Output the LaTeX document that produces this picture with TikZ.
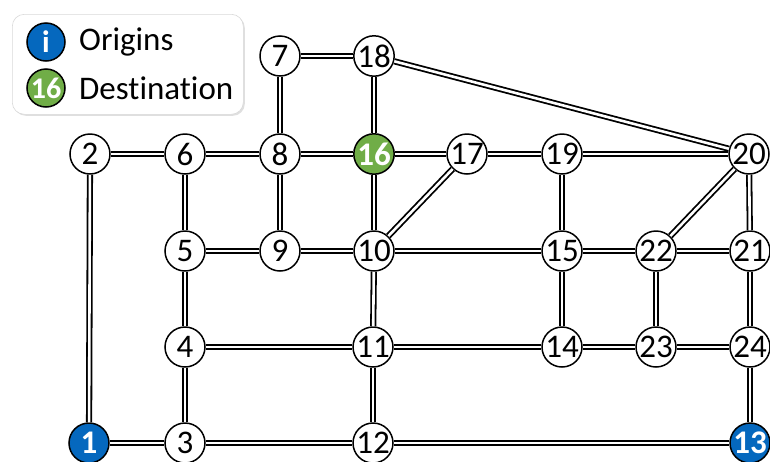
\documentclass[tikz,border=0pt]{standalone}
\usepackage{fontspec}
\setmainfont{Carlito}[Ligatures=NoCommon]
\usetikzlibrary{shadows}
\definecolor{orgblue}{RGB}{5,104,190}
\definecolor{dstgreen}{RGB}{112,173,71}
\begin{document}
\begin{tikzpicture}[x=1pt,y=-1pt,
  nd/.style={circle,draw=black,line width=1.5pt,fill=white,minimum size=40pt,inner sep=0pt,font=\fontsize{33}{33}\selectfont},
  org/.style={nd,fill=orgblue,text=white,font=\fontsize{33}{33}\selectfont\bfseries},
  dst/.style={nd,fill=dstgreen,text=white,font=\fontsize{33}{33}\selectfont\bfseries},
  ed/.style={draw=black,line width=1.8pt,double=white,double distance=2.6pt},
  legtxt/.style={anchor=west,inner sep=0pt,font=\fontsize{33}{33}\selectfont}]
\useasboundingbox (0,0) rectangle (770,461);
% legend
\node[draw=black!15,line width=0.6pt,fill=white,rounded corners=12pt,minimum width=231pt,minimum height=100pt,anchor=north west,
  drop shadow={opacity=0.25,shadow xshift=1.5pt,shadow yshift=-1.5pt}] (legend) at (12,14) {};
\node[org,minimum size=38pt,font=\fontsize{31}{31}\selectfont\bfseries] (li) at (46,42) {i};
\node[dst,minimum size=38pt,font=\fontsize{30}{30}\selectfont\bfseries] (ld) at (46,88) {16};
\node[legtxt] (lt1) at (79,42) {Origins};
\node[legtxt] (lt2) at (79,88) {Destination};
% nodes
\node[nd] (n7) at (280,56) {7};
\node[nd] (n18) at (374,56) {18};
\node[nd] (n2) at (90,154) {2};
\node[nd] (n6) at (185,154) {6};
\node[nd] (n8) at (280,154) {8};
\node[dst] (n16) at (374,154) {16};
\node[nd] (n17) at (467,154) {17};
\node[nd] (n19) at (562,154) {19};
\node[nd] (n20) at (749,154) {20};
\node[nd] (n5) at (185,251) {5};
\node[nd] (n9) at (280,251) {9};
\node[nd] (n10) at (374,251) {10};
\node[nd] (n15) at (562,251) {15};
\node[nd] (n22) at (656,251) {22};
\node[nd] (n21) at (750,251) {21};
\node[nd] (n4) at (185,347) {4};
\node[nd] (n11) at (373,347) {11};
\node[nd] (n14) at (562,347) {14};
\node[nd] (n23) at (656,347) {23};
\node[nd] (n24) at (750,347) {24};
\node[org] (n1) at (89,443) {1};
\node[nd] (n3) at (185,443) {3};
\node[nd] (n12) at (373,443) {12};
\node[org] (n13) at (750,443) {13};
% edges
\foreach \a/\b in {n7/n18,n7/n8,n18/n16,n18/n20,n2/n6,n2/n1,n6/n8,n6/n5,n8/n16,n8/n9,
  n16/n17,n16/n10,n17/n19,n17/n10,n19/n20,n19/n15,n20/n22,n20/n21,n5/n9,n5/n4,n9/n10,
  n10/n15,n10/n11,n15/n22,n15/n14,n22/n21,n22/n23,n21/n24,n4/n11,n4/n3,n11/n14,n11/n12,
  n14/n23,n23/n24,n24/n13,n1/n3,n3/n12,n12/n13}
  \draw[ed] (\a) -- (\b);
\end{tikzpicture}
\end{document}
